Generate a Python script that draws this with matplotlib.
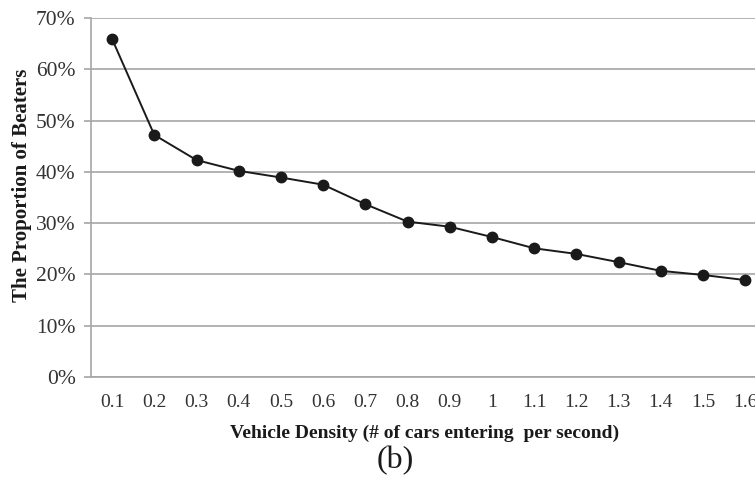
import matplotlib
matplotlib.use("Agg")
import matplotlib.pyplot as plt
from matplotlib.ticker import FuncFormatter

categories = ["0.1", "0.2", "0.3", "0.4", "0.5", "0.6", "0.7", "0.8",
              "0.9", "1", "1.1", "1.2", "1.3", "1.4", "1.5", "1.6"]
beaters = [65.9, 47.2, 42.3, 40.2, 38.9, 37.5, 33.7, 30.3,
           29.3, 27.3, 25.1, 24.0, 22.4, 20.7, 19.9, 18.9]
yticks = [0, 10, 20, 30, 40, 50, 60, 70]

plt.rcParams['font.family'] = ['Liberation Serif', 'DejaVu Serif']

fig = plt.figure(figsize=(7.55, 4.82), dpi=100)
W, H = 755, 482
left, right = 91, 91 + 16 * 42.2
top, bottom = 18, 377
ax = fig.add_axes([left / W, 1 - bottom / H, (right - left) / W, (bottom - top) / H])

x = list(range(len(categories)))
ax.plot(x, beaters, color='#1a1a1a', lw=1.4, marker='o', ms=7.5, zorder=3)

ax.set_xlim(-0.5, len(categories) - 0.5)
ax.set_ylim(0, 70)
ax.set_yticks(yticks)
ax.yaxis.set_major_formatter(FuncFormatter(lambda v, p: f"{int(v)}%"))
ax.set_xticks(x)
ax.set_xticklabels(categories)

ax.grid(axis='y', color='#a6a6a6', lw=1.2)
ax.set_axisbelow(True)
for s in ['top', 'right']:
    ax.spines[s].set_visible(False)
for s in ['left', 'bottom']:
    ax.spines[s].set_color('#a6a6a6')
    ax.spines[s].set_linewidth(1.2)

ax.tick_params(axis='y', length=5, width=1.2, color='#a6a6a6', labelsize=15.5,
               labelcolor='#333333', pad=6)
ax.tick_params(axis='x', length=0, labelsize=14, labelcolor='#333333', pad=12)

fig.text(0.5 * (232 + 617) / W, 1 - 433 / H,
         "Vehicle Density (# of cars entering  per second)",
         ha='center', va='center', fontsize=14, fontweight='bold', color='#1a1a1a')
fig.text(22 / W, 1 - 185 / H, "The Proportion of Beaters", rotation=90,
         ha='center', va='center', fontsize=15, fontweight='bold', color='#1a1a1a')
fig.text(395 / W, 1 - 461 / H, "(b)", ha='center', va='center', fontsize=23,
         color='#1a1a1a')

fig.savefig("out.png", dpi=100)
